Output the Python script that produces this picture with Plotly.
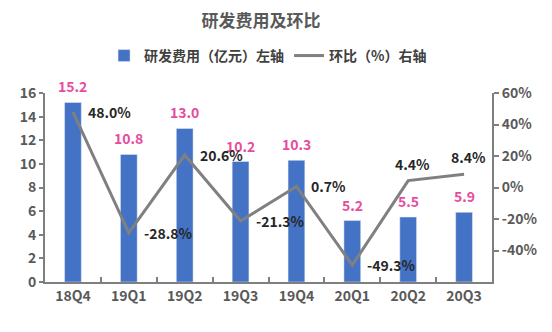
import plotly.graph_objects as go

categories = ["18Q4", "19Q1", "19Q2", "19Q3", "19Q4", "20Q1", "20Q2", "20Q3"]
rd_expense = [15.2, 10.8, 13.0, 10.2, 10.3, 5.2, 5.5, 5.9]
qoq_pct = [48.0, -28.8, 20.6, -21.3, 0.7, -49.3, 4.4, 8.4]
left_ticks = [0, 2, 4, 6, 8, 10, 12, 14, 16]
right_ticks = [-40, -20, 0, 20, 40, 60]

FONT = "Noto Sans CJK SC, Microsoft YaHei, sans-serif"
AXIS_COLOR = "#7f7f7f"
TICK_COLOR = "#595959"

fig = go.Figure()
fig.add_trace(go.Bar(
    x=categories, y=rd_expense, name="研发费用（亿元）左轴",
    marker=dict(color="#4472C4"), yaxis="y",
))
fig.add_trace(go.Scatter(
    x=categories, y=qoq_pct, name="环比（%）右轴", mode="lines",
    line=dict(color="#808080", width=3), yaxis="y2",
))

ann = []
for c, v in zip(categories, rd_expense):
    ann.append(dict(x=c, y=v, xref="x", yref="y", text=f"{v:.1f}",
                    showarrow=False, yshift=16,
                    font=dict(family=FONT, size=14, color="#E64D9E", weight="bold")))
for i, (c, v) in enumerate(zip(categories, qoq_pct)):
    if i >= 6:
        ann.append(dict(x=c, y=v, xref="x", yref="y2", text=f"{v:.1f}%",
                        showarrow=False, yshift=17, xshift=4,
                        font=dict(family=FONT, size=14, color="#262626", weight="bold")))
    else:
        ann.append(dict(x=c, y=v, xref="x", yref="y2", text=f"{v:.1f}%",
                        showarrow=False, xanchor="left", xshift=13,
                        font=dict(family=FONT, size=14, color="#262626", weight="bold")))

tickfont = dict(family=FONT, size=14, color=TICK_COLOR, weight="bold")

fig.update_layout(
    width=552, height=332,
    margin=dict(l=45, r=60, t=93, b=50),
    paper_bgcolor="white", plot_bgcolor="white",
    font=dict(family=FONT, color=TICK_COLOR),
    title=dict(text="<b>研发费用及环比</b>", x=261/552, xanchor="center",
               y=1 - 21/332, yanchor="middle",
               font=dict(family=FONT, size=17, color="#595959")),
    legend=dict(orientation="h", x=0.499, xanchor="center", y=1.196,
                yanchor="middle",
                font=dict(family=FONT, size=14, color="#404040", weight="bold"),
                bgcolor="rgba(0,0,0,0)", itemwidth=30, tracegroupgap=0),
    bargap=0.7,
    showlegend=True,
    annotations=ann,
    xaxis=dict(type="category", showgrid=False, showline=True, linecolor=AXIS_COLOR,
               linewidth=2, ticks="inside", tickson="boundaries", ticklen=5,
               tickcolor=AXIS_COLOR, tickwidth=2, tickfont=tickfont),
    yaxis=dict(range=[0, 16], tickvals=left_ticks, showgrid=False, zeroline=False,
               showline=True, linecolor=AXIS_COLOR, linewidth=2, ticks="outside",
               ticklen=4, tickcolor=AXIS_COLOR, tickwidth=2, tickfont=tickfont),
    yaxis2=dict(range=[-60, 60], tickvals=right_ticks,
                ticktext=[f"{t}%" for t in right_ticks], overlaying="y", side="right",
                showgrid=False, zeroline=False, showline=True, linecolor=AXIS_COLOR,
                linewidth=2, ticks="outside", ticklen=5, tickcolor=AXIS_COLOR,
                tickwidth=2, tickfont=tickfont),
)

fig.write_html("out.html")
